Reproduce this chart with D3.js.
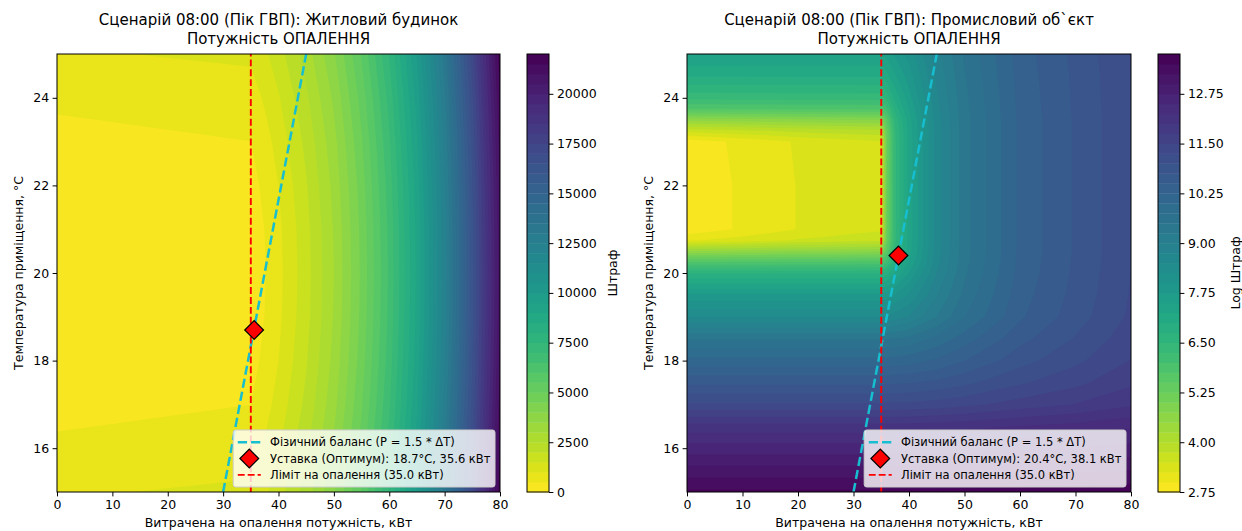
<!DOCTYPE html>
<html><head><meta charset="utf-8">
<script src="https://cdn.jsdelivr.net/npm/d3@7"></script>
<style>
body{margin:0;background:#fff}
svg{display:block}
text{font-family:"DejaVu Sans",sans-serif;fill:#000}
</style>
</head><body>
<svg id="c" width="1242" height="531"></svg>
<script>
// ---------- shared data ----------
const powerTicks = [0,10,20,30,40,50,60,70,80];
const tempTicks = [16,18,20,22,24];
const balanceP = [30,45];
const balanceT = [15,25];
const heatLimit = 35;
const xLabel = "Витрачена на опалення потужність, кВт";
const yLabel = "Температура приміщення, °C";
const legendBalance = "Фізичний баланс (P = 1.5 * ΔT)";
const legendLimit = "Ліміт на опалення (35.0 кВт)";

// ---------- residential ----------
const resTitle = ["Сценарій 08:00 (Пік ГВП): Житловий будинок","Потужність ОПАЛЕННЯ"];
const resP = [0,5,10,15,20,25,30,35,37.5,40,45,50,55,60,65,70,75,80];
const resT = [15,16,17,18,19,20,21,22,23,24,25];
const resGrid = [
 [937,960,983,1006,1029,1052,1075,1098,1407,1787,2737,3937,5537,7537,10037,13237,17237,21837],
 [600,623,646,669,692,715,738,761,1070,1450,2400,3600,5200,7200,9700,12900,16900,21500],
 [337,360,383,406,429,452,475,498,807,1187,2137,3337,4937,6937,9437,12637,16637,21237],
 [150,173,196,219,242,265,288,311,620,1000,1950,3150,4750,6750,9250,12450,16450,21050],
 [37,60,83,106,129,152,175,198,507,887,1837,3037,4637,6637,9137,12337,16337,20937],
 [0,23,46,69,92,115,138,161,470,850,1800,3000,4600,6600,9100,12300,16300,20900],
 [37,60,83,106,129,152,175,198,507,887,1837,3037,4637,6637,9137,12337,16337,20937],
 [150,173,196,219,242,265,288,311,620,1000,1950,3150,4750,6750,9250,12450,16450,21050],
 [337,360,383,406,429,452,475,498,807,1187,2137,3337,4937,6937,9437,12637,16637,21237],
 [600,623,646,669,692,715,738,761,1070,1450,2400,3600,5200,7200,9700,12900,16900,21500],
 [937,960,983,1006,1029,1052,1075,1098,1407,1787,2737,3937,5537,7537,10037,13237,17237,21837]
];
const resCbTicks = [0,2500,5000,7500,10000,12500,15000,17500,20000];
const resCbLabel = "Штраф";
const resOpt = {T:18.7, P:35.6};
const resOptLabel = "Уставка (Оптимум): 18.7°C, 35.6 кВт";

// ---------- industrial ----------
const indTitle = ["Сценарій 08:00 (Пік ГВП): Промисловий об`єкт","Потужність ОПАЛЕННЯ"];
const indP = [0,5,10,15,20,25,30,35,36,37.5,40,45,50,60,70,80];
const indT = [15,15.5,16,16.5,17,17.5,18,18.5,19,19.5,20,20.25,20.5,20.75,21,22,23,23.25,23.5,23.75,24,24.5,25];
const indGrid = [
 [13.55,13.55,13.55,13.55,13.55,13.55,13.55,13.55,13.55,13.56,13.56,13.56,13.57,13.59,13.62,13.65],
 [13.10,13.10,13.10,13.10,13.10,13.10,13.10,13.10,13.10,13.10,13.11,13.11,13.13,13.16,13.20,13.25],
 [12.61,12.61,12.61,12.61,12.61,12.61,12.61,12.61,12.61,12.61,12.62,12.63,12.65,12.71,12.76,12.84],
 [12.10,12.10,12.10,12.10,12.10,12.10,12.10,12.10,12.10,12.10,12.11,12.13,12.17,12.26,12.34,12.45],
 [11.29,11.29,11.29,11.29,11.29,11.29,11.29,11.29,11.29,11.30,11.31,11.36,11.43,11.61,11.76,11.96],
 [10.69,10.69,10.69,10.69,10.69,10.69,10.69,10.69,10.70,10.71,10.73,10.81,10.93,11.21,11.43,11.70],
 [10.09,10.09,10.09,10.09,10.09,10.09,10.09,10.09,10.09,10.11,10.15,10.29,10.49,10.90,11.19,11.51],
 [9.47,9.47,9.47,9.47,9.47,9.47,9.47,9.47,9.49,9.52,9.58,9.83,10.13,10.67,11.02,11.40],
 [8.50,8.50,8.50,8.50,8.50,8.50,8.50,8.50,8.53,8.62,8.77,9.25,9.74,10.46,10.88,11.30],
 [7.81,7.81,7.81,7.81,7.81,7.81,7.81,7.81,7.87,8.03,8.29,8.98,9.58,10.39,10.83,11.27],
 [6.71,6.71,6.71,6.71,6.72,6.72,6.72,6.72,6.89,7.27,7.76,8.75,9.46,10.34,10.80,11.25],
 [5.76,5.76,5.77,5.78,5.79,5.79,5.80,5.81,6.18,6.84,7.51,8.67,9.42,10.32,10.79,11.24],
 [4.52,4.54,4.56,4.59,4.62,4.63,4.65,4.67,5.55,6.56,7.38,8.63,9.40,10.31,10.78,11.24],
 [3.21,3.29,3.36,3.44,3.53,3.58,3.64,3.68,5.25,6.46,7.34,8.62,9.40,10.31,10.78,11.24],
 [2.82,2.93,3.04,3.15,3.26,3.33,3.40,3.46,5.20,6.45,7.34,8.62,9.40,10.31,10.78,11.24],
 [2.82,2.93,3.04,3.15,3.26,3.33,3.40,3.46,5.20,6.45,7.34,8.62,9.40,10.31,10.78,11.24],
 [2.85,2.96,3.06,3.17,3.28,3.35,3.42,3.48,5.21,6.45,7.34,8.62,9.40,10.31,10.78,11.24],
 [3.61,3.66,3.71,3.77,3.83,3.87,3.91,3.95,5.31,6.48,7.35,8.62,9.40,10.31,10.78,11.24],
 [4.62,4.64,4.66,4.69,4.71,4.73,4.75,4.76,5.59,6.58,7.39,8.63,9.40,10.31,10.78,11.24],
 [5.76,5.76,5.77,5.78,5.79,5.79,5.80,5.81,6.18,6.84,7.51,8.67,9.42,10.32,10.79,11.24],
 [6.34,6.34,6.35,6.35,6.36,6.36,6.36,6.37,6.60,7.08,7.64,8.71,9.44,10.33,10.79,11.25],
 [7.02,7.02,7.02,7.03,7.03,7.03,7.03,7.03,7.16,7.46,7.88,8.80,9.48,10.35,10.80,11.25],
 [7.50,7.51,7.51,7.51,7.51,7.51,7.51,7.51,7.59,7.80,8.11,8.90,9.54,10.37,10.82,11.26]
];
const indCbTicks = [2.75,4.00,5.25,6.50,7.75,9.00,10.25,11.50,12.75];
const indCbLabel = "Log Штраф";
const indOpt = {T:20.4, P:38.1};
const indOptLabel = "Уставка (Оптимум): 20.4°C, 38.1 кВт";

// contour levels (nice steps, 44 bands)
const resLevels = d3.range(0,45).map(i=>i*500);
const indLevels = d3.range(0,45).map(i=>2.75+i*0.25);

const svg = d3.select("#c");
const TICK_FS = 12.5, LAB_FS = 12.5, TITLE_FS = 15, LEG_FS = 11.5;
const CYAN = "#17becf";

function drawPanel(o){
  const {x0,x1,y0,y1,cbx,cbw,id} = o;
  const xs = d3.scaleLinear().domain([0,80]).range([x0,x1]);
  const ys = d3.scaleLinear().domain([15,25]).range([y1,y0]);
  const L = o.levels;
  const col = v => d3.interpolateViridis(1-(v-L[0])/(L[L.length-1]-L[0]));
  const bandColor = i => col((L[i]+L[i+1])/2);

  const clipId = "clip"+id;
  svg.append("clipPath").attr("id",clipId).append("rect")
    .attr("x",x0).attr("y",y0).attr("width",x1-x0).attr("height",y1-y0);

  const n = o.P.length, m = o.T.length;
  const vals = o.grid.flat();
  const conts = d3.contours().size([n,m]).thresholds(L.slice(0,-1))(vals);
  const ix = d3.scaleLinear().domain(o.P.map((_,i)=>i+0.5)).range(o.P).clamp(true);
  const iy = d3.scaleLinear().domain(o.T.map((_,j)=>j+0.5)).range(o.T).clamp(true);
  const path = d3.geoPath(d3.geoTransform({point(x,y){ this.stream.point(xs(ix(x)), ys(iy(y))); }}));

  const plot = svg.append("g").attr("clip-path",`url(#${clipId})`);
  plot.selectAll("path.band").data(conts).join("path").attr("class","band")
    .attr("d",path)
    .attr("fill",d=>bandColor(L.indexOf(d.value)))
    .attr("fill-rule","evenodd");

  // physical balance line
  plot.append("path")
    .attr("d", d3.line().x(d=>xs(d[0])).y(d=>ys(d[1]))(balanceP.map((p,i)=>[p,balanceT[i]])))
    .attr("fill","none").attr("stroke",CYAN).attr("stroke-width",2.5)
    .attr("stroke-dasharray","9.25,4");
  // limit line
  plot.append("line").attr("x1",xs(heatLimit)).attr("x2",xs(heatLimit))
    .attr("y1",ys(15)).attr("y2",ys(25))
    .attr("stroke","#ff0000").attr("stroke-width",1.9).attr("stroke-dasharray","6.9,3");
  // optimum
  const diamond = d3.symbol(d3.symbolSquare,175)();
  svg.append("path").attr("d",diamond)
    .attr("transform",`translate(${xs(o.opt.P)},${ys(o.opt.T)}) rotate(45)`)
    .attr("fill","#ff0000").attr("stroke","#000").attr("stroke-width",1.25);

  // frame
  svg.append("rect").attr("x",x0).attr("y",y0).attr("width",x1-x0).attr("height",y1-y0)
    .attr("fill","none").attr("stroke","#000").attr("stroke-width",1);

  // axes
  const ax = svg.append("g").attr("transform",`translate(0,${y1})`)
    .call(d3.axisBottom(xs).tickValues(powerTicks).tickSize(4.4).tickPadding(3.5).tickFormat(d3.format("d")));
  const ay = svg.append("g").attr("transform",`translate(${x0},0)`)
    .call(d3.axisLeft(ys).tickValues(tempTicks).tickSize(4.4).tickPadding(3.5).tickFormat(d3.format("d")));
  [ax,ay].forEach(a=>{
    a.select(".domain").remove();
    a.selectAll("line").attr("stroke","#000").attr("stroke-width",1);
    a.selectAll("text").style("font-size",TICK_FS+"px").style("font-family","DejaVu Sans").attr("fill","#000");
  });

  // labels
  svg.append("text").attr("x",(x0+x1)/2).attr("y",527).attr("text-anchor","middle")
    .style("font-size",LAB_FS+"px").text(xLabel);
  svg.append("text").attr("transform",`translate(${x0-34.5},${(y0+y1)/2}) rotate(-90)`)
    .attr("text-anchor","middle").style("font-size",LAB_FS+"px").text(yLabel);
  // title
  svg.append("text").attr("x",(x0+x1)/2).attr("y",25).attr("text-anchor","middle")
    .style("font-size",TITLE_FS+"px").text(o.title[0]);
  svg.append("text").attr("x",(x0+x1)/2).attr("y",43.5).attr("text-anchor","middle")
    .style("font-size",TITLE_FS+"px").text(o.title[1]);

  // colorbar
  const cs = d3.scaleLinear().domain([L[0],L[L.length-1]]).range([y1,y0]);
  const cb = svg.append("g");
  cb.selectAll("rect").data(d3.range(L.length-1)).join("rect")
    .attr("x",cbx).attr("width",cbw)
    .attr("y",i=>cs(L[i+1])).attr("height",i=>cs(L[i])-cs(L[i+1])+0.4)
    .attr("fill",i=>bandColor(i));
  svg.append("rect").attr("x",cbx).attr("y",y0).attr("width",cbw).attr("height",y1-y0)
    .attr("fill","none").attr("stroke","#000").attr("stroke-width",1);
  const ac = svg.append("g").attr("transform",`translate(${cbx+cbw},0)`)
    .call(d3.axisRight(cs).tickValues(o.cbTicks).tickSize(4.4).tickPadding(3.5).tickFormat(o.cbFmt));
  ac.select(".domain").remove();
  ac.selectAll("line").attr("stroke","#000").attr("stroke-width",1);
  ac.selectAll("text").style("font-size",TICK_FS+"px").style("font-family","DejaVu Sans").attr("fill","#000");
  svg.append("text").attr("transform",`translate(${o.cbLabelX},${(y0+y1)/2}) rotate(-90)`)
    .attr("text-anchor","middle").style("font-size",LAB_FS+"px").text(o.cbLabel);

  // legend
  const lg = svg.append("g");
  const fs = LEG_FS, pad = 0.4*fs, hl = 2*fs, htp = 0.8*fs, rowH = fs*1.42;
  const labels = [legendBalance, o.optLabel, legendLimit];
  const texts = labels.map((t,i)=>lg.append("text").style("font-size",fs+"px").text(t));
  const tw = d3.max(texts, t=>t.node().getComputedTextLength());
  const bw = pad*2 + hl + htp + tw;
  const bh = 57;
  const bx = x1 - 5 - bw, by = y1 - 5 - bh;
  lg.insert("rect","text").attr("x",bx).attr("y",by).attr("width",bw).attr("height",bh)
    .attr("rx",2.5).attr("fill","rgba(255,255,255,0.8)").attr("stroke","#cccccc").attr("stroke-width",1);
  texts.forEach((t,i)=>{
    const cy = by + bh/2 + (i-1)*rowH;
    t.attr("x",bx+pad+hl+htp).attr("y",cy+fs*0.36);
    const hx0 = bx+pad, hx1 = bx+pad+hl;
    if(i===0) lg.append("line").attr("x1",hx0).attr("x2",hx1).attr("y1",cy).attr("y2",cy)
      .attr("stroke",CYAN).attr("stroke-width",2.5).attr("stroke-dasharray","9.25,4");
    if(i===1) lg.append("path").attr("d",diamond)
      .attr("transform",`translate(${(hx0+hx1)/2},${cy}) rotate(45)`)
      .attr("fill","#ff0000").attr("stroke","#000").attr("stroke-width",1.25);
    if(i===2) lg.append("line").attr("x1",hx0).attr("x2",hx1).attr("y1",cy).attr("y2",cy)
      .attr("stroke","#ff0000").attr("stroke-width",1.9).attr("stroke-dasharray","6.9,3");
  });
}

drawPanel({id:"a", x0:57, x1:500, y0:54, y1:492, cbx:527, cbw:22,
  P:resP, T:resT, grid:resGrid, levels:resLevels, title:resTitle,
  cbTicks:resCbTicks, cbFmt:d3.format("d"), cbLabel:resCbLabel, cbLabelX:617,
  opt:resOpt, optLabel:resOptLabel});
drawPanel({id:"b", x0:687, x1:1131, y0:54, y1:492, cbx:1158, cbw:22,
  P:indP, T:indT, grid:indGrid, levels:indLevels, title:indTitle,
  cbTicks:indCbTicks, cbFmt:d3.format(".2f"), cbLabel:indCbLabel, cbLabelX:1240,
  opt:indOpt, optLabel:indOptLabel});
</script>
</body></html>
